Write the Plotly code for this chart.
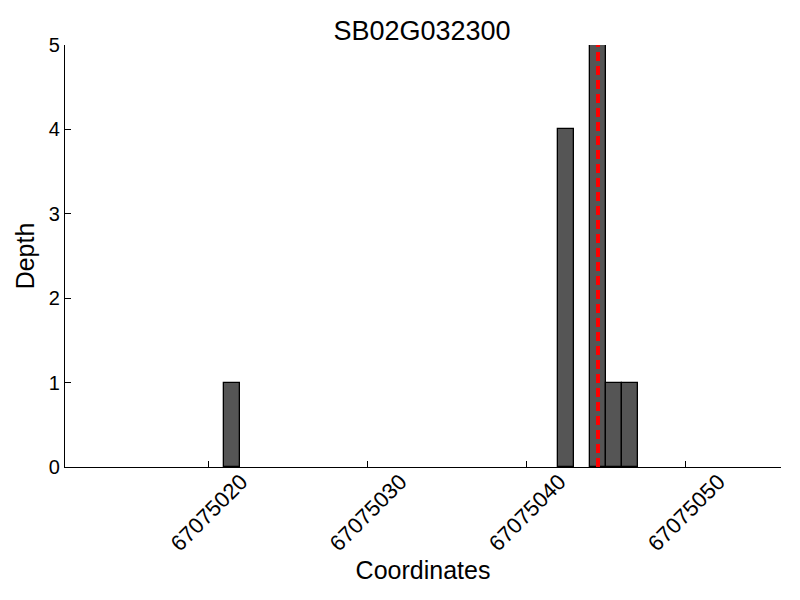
import plotly.graph_objects as go

# depth per coordinate
coords = [67075021, 67075042, 67075044, 67075045, 67075046]
depth = [1, 4, 5, 1, 1]
snp_pos = 67075044.5
x_ticks = [67075020, 67075030, 67075040, 67075050]
title = "SB02G032300"

fig = go.Figure()
fig.add_trace(go.Bar(x=coords, y=depth, width=1, offset=0,
                     marker=dict(color="#555555",
                                 line=dict(color="black", width=1.3))))
fig.add_trace(go.Scatter(x=[snp_pos, snp_pos], y=[0, max(depth)], mode="lines",
                         line=dict(color="#ff0000", width=4, dash="9px,5px")))

# the page body adds 8px, so margins are trimmed by that much
fig.update_layout(
    width=800, height=600,
    plot_bgcolor="white", paper_bgcolor="white",
    showlegend=False,
    font=dict(family="Liberation Sans, Arial, sans-serif", color="black", size=20),
    title=dict(text=title, x=0.5175, xanchor="center", y=0.963, yanchor="middle",
               font=dict(size=27)),
    margin=dict(l=57, r=27, t=37, b=141, autoexpand=False),
    bargap=0,
)
fig.update_xaxes(range=[67075011, 67075056], tickvals=x_ticks,
                 ticktext=[str(v) for v in x_ticks], tickangle=-45,
                 tickfont=dict(size=22),
                 ticklabelshift=33, ticklabelstandoff=-8,
                 ticks="inside", ticklen=6, tickcolor="black",
                 showline=True, linecolor="black", linewidth=1.3,
                 showgrid=False, zeroline=False, automargin=False,
                 title=dict(text="Coordinates", font=dict(size=25), standoff=2))
fig.update_yaxes(range=[0, 5], dtick=1, ticks="inside", ticklen=6,
                 tickcolor="black", showline=True, linecolor="black",
                 linewidth=1.3, showgrid=False, zeroline=False, automargin=False,
                 title=dict(text="Depth", font=dict(size=25), standoff=6))

fig.write_html("out.html")
